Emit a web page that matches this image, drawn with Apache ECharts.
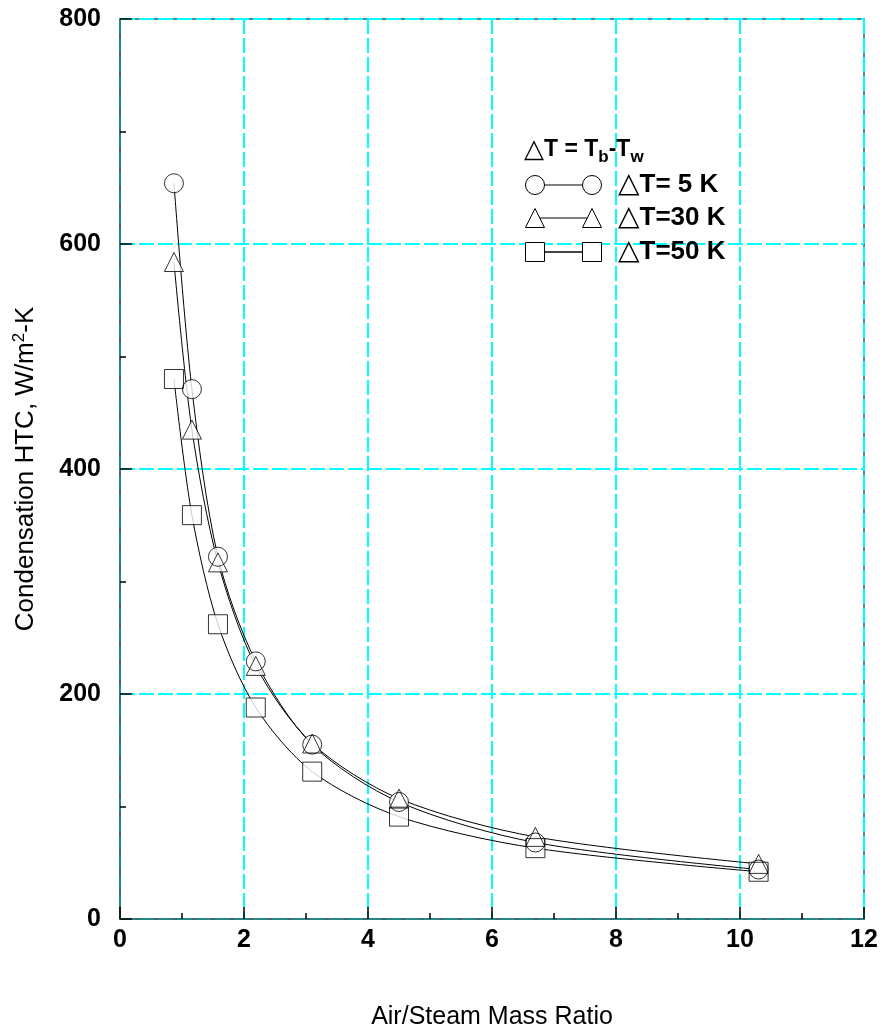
<!DOCTYPE html>
<html>
<head>
<meta charset="utf-8">
<script src="https://cdn.jsdelivr.net/npm/echarts@6/dist/echarts.min.js"></script>
<style>
  html, body { margin: 0; padding: 0; background: #fff; }
  #chart { width: 888px; height: 1036px; }
</style>
</head>
<body>
<div id="chart"></div>
<script>
// Air/steam mass ratio at each measured point
const massRatio = [0.87, 1.16, 1.58, 2.19, 3.10, 4.50, 6.70, 10.30];
// Condensation heat-transfer coefficient, W/m2-K, for each temperature difference
const htc5K  = [654, 471, 322, 229, 155, 104, 68, 44];
const htc30K = [584, 435, 317, 225, 156, 107, 73, 49];
const htc50K = [480, 359, 262, 188, 131, 91, 63, 42];

const seriesDefs = [
  { name: '△T= 5 K',  values: htc5K,  symbol: 'circle' },
  { name: '△T=30 K',  values: htc30K, symbol: 'triangle' },
  { name: '△T=50 K',  values: htc50K, symbol: 'rect' }
];

const FONT = '"Liberation Sans", Arial, "DejaVu Sans", sans-serif';
const AXIS_COLOR = '#355f5f';
const GRID_COLOR = '#00ffff';
const MARK = 19;

function pairs(values) {
  return massRatio.map((x, i) => [x, values[i]]);
}

const series = [];
// connecting curves
seriesDefs.forEach(d => {
  series.push({
    type: 'line', name: d.name, data: pairs(d.values),
    smooth: 0.3, showSymbol: false, silent: true, z: 2,
    lineStyle: { color: '#000', width: 1 }
  });
});
// white marker bodies hide the curves inside each marker
seriesDefs.forEach(d => {
  series.push({
    type: 'scatter', data: pairs(d.values), symbol: d.symbol, symbolSize: MARK,
    silent: true, z: 3,
    itemStyle: { color: '#fff', borderWidth: 0 }
  });
});
// marker outlines, all visible where markers overlap
seriesDefs.forEach(d => {
  series.push({
    type: 'scatter', data: pairs(d.values), symbol: d.symbol, symbolSize: MARK,
    silent: true, z: 4,
    itemStyle: { color: 'rgba(0,0,0,0)', borderColor: '#000', borderWidth: 1 }
  });
});

// legend block: key glyphs and labels
const lgX1 = 535, lgX2 = 592, lgText = 618;
const lgRows = [185, 218, 252];
const half = MARK / 2;
function glyph(kind, cx, cy) {
  if (kind === 'circle') {
    return { type: 'circle', shape: { cx: cx, cy: cy, r: half },
      style: { fill: '#fff', stroke: '#000', lineWidth: 1 }, z: 10 };
  }
  if (kind === 'triangle') {
    return { type: 'polygon', shape: { points: [[cx, cy - half], [cx + half, cy + half], [cx - half, cy + half]] },
      style: { fill: '#fff', stroke: '#000', lineWidth: 1 }, z: 10 };
  }
  return { type: 'rect', shape: { x: cx - half, y: cy - half, width: MARK, height: MARK },
    style: { fill: '#fff', stroke: '#000', lineWidth: 1 }, z: 10 };
}
const legendGraphics = [{
  type: 'text', x: 524, y: 150, z: 10,
  style: {
    text: '{tri|△}T = T{sub|b}-T{sub|w}',
    font: 'bold 23px ' + FONT, fill: '#000', verticalAlign: 'middle',
    rich: {
      tri: { font: '26px "DejaVu Sans", sans-serif' },
      sub: { font: 'bold 17px ' + FONT, padding: [14, 0, 0, 0] }
    }
  }
}];
seriesDefs.forEach((d, i) => {
  const y = lgRows[i];
  legendGraphics.push({ type: 'line', shape: { x1: lgX1, y1: y, x2: lgX2, y2: y },
    style: { stroke: i === 2 ? '#444' : '#000', lineWidth: i === 2 ? 2 : 1 }, z: 9 });
  legendGraphics.push(glyph(d.symbol, lgX1, y));
  legendGraphics.push(glyph(d.symbol, lgX2, y));
  legendGraphics.push({ type: 'text', x: lgText, y: y, z: 10,
    style: {
      text: '{tri|△}' + d.name.slice(1),
      font: 'bold 26px ' + FONT, fill: '#000', verticalAlign: 'middle',
      rich: { tri: { font: '28px "DejaVu Sans", sans-serif' } }
    } });
});

const chart = echarts.init(document.getElementById('chart'), null, { renderer: 'canvas' });
chart.setOption({
  animation: false,
  backgroundColor: '#fff',
  grid: { left: 120, right: 24, top: 19, bottom: 117, show: true, borderColor: AXIS_COLOR, borderWidth: 1.5 },
  xAxis: {
    type: 'value', min: 0, max: 12, interval: 2,
    name: 'Air/Steam Mass Ratio', nameLocation: 'middle', nameGap: 86,
    nameTextStyle: { fontFamily: FONT, fontSize: 25, color: '#000' },
    axisLine: { show: true, lineStyle: { color: AXIS_COLOR, width: 1.5 } },
    axisTick: { show: true, inside: true, length: 12, lineStyle: { color: '#000', width: 1.5 } },
    minorTick: { show: true, splitNumber: 2, length: 6, lineStyle: { color: '#000', width: 1.5 } },
    axisLabel: { fontFamily: FONT, fontSize: 25, fontWeight: 'bold', color: '#000', margin: 9 },
    splitLine: { show: true, lineStyle: { color: GRID_COLOR, width: 2, type: [15, 4] } }
  },
  yAxis: {
    type: 'value', min: 0, max: 800, interval: 200,
    name: 'Condensation HTC, W/m{sup|2}-K', nameLocation: 'middle', nameGap: 80,
    nameTextStyle: { fontFamily: FONT, fontSize: 26, color: '#000',
      rich: { sup: { fontFamily: FONT, fontSize: 17, color: '#000', padding: [0, 0, 12, 0] } } },
    axisLine: { show: true, lineStyle: { color: AXIS_COLOR, width: 1.5 } },
    axisTick: { show: true, inside: true, length: 12, lineStyle: { color: '#000', width: 1.5 } },
    minorTick: { show: true, splitNumber: 2, length: 6, lineStyle: { color: '#000', width: 1.5 } },
    axisLabel: { fontFamily: FONT, fontSize: 25, fontWeight: 'bold', color: '#000', margin: 19 },
    splitLine: { show: true, lineStyle: { color: GRID_COLOR, width: 2, type: [15, 4] } }
  },
  series: series,
  graphic: legendGraphics
});
</script>
</body>
</html>
